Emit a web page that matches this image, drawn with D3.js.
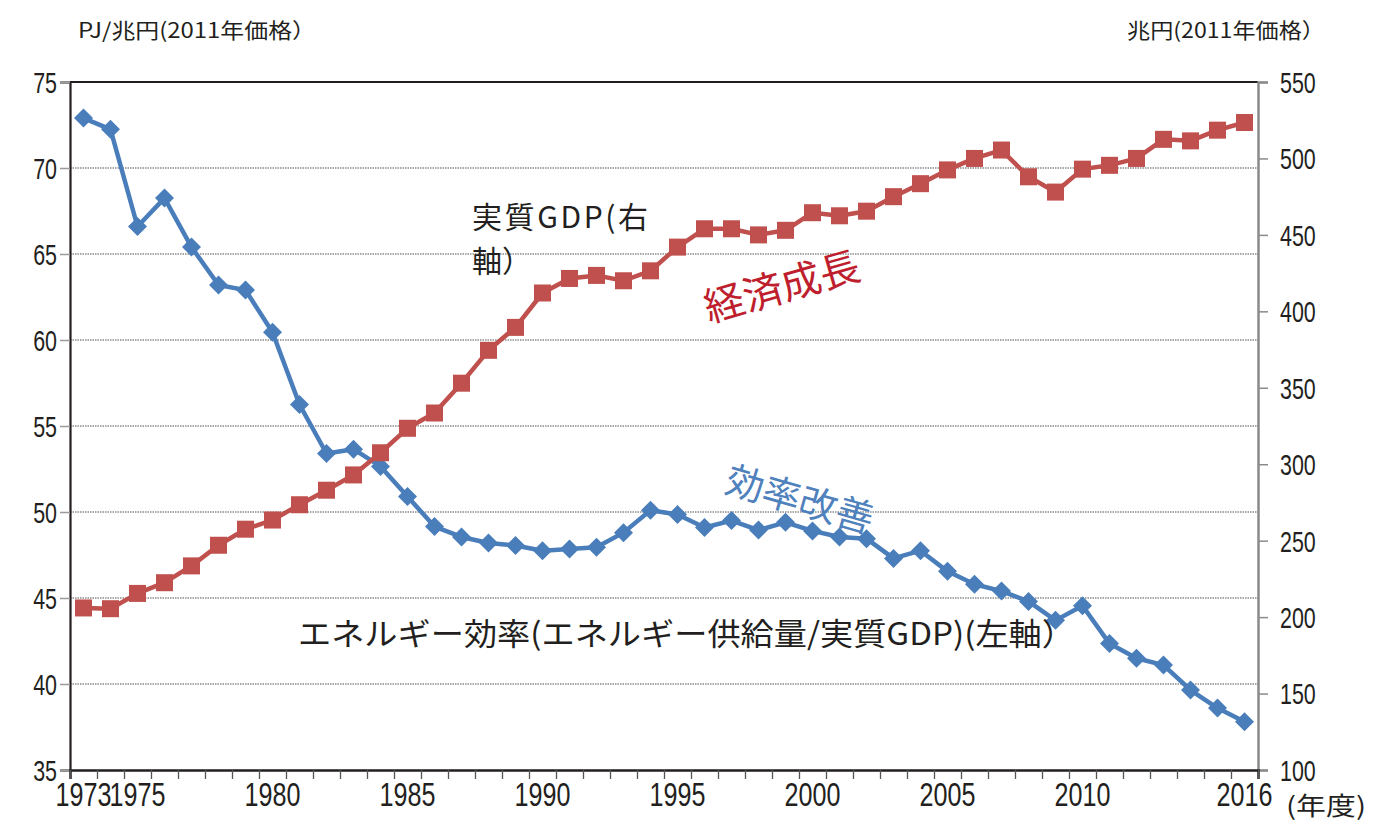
<!DOCTYPE html>
<html><head><meta charset="utf-8">
<script src="https://cdn.jsdelivr.net/npm/d3@7"></script>
<style>body{margin:0;background:#fff}</style>
</head><body><svg id="c" width="1380" height="840"></svg>
<script>
const years = [1973,1974,1975,1976,1977,1978,1979,1980,1981,1982,1983,1984,1985,1986,1987,1988,1989,1990,1991,1992,1993,1994,1995,1996,1997,1998,1999,2000,2001,2002,2003,2004,2005,2006,2007,2008,2009,2010,2011,2012,2013,2014,2015,2016];
const efficiency = [72.9,72.25,66.6,68.25,65.4,63.2,62.9,60.45,56.25,53.4,53.65,52.65,50.9,49.15,48.55,48.2,48.05,47.75,47.85,47.95,48.8,50.1,49.85,49.1,49.5,48.95,49.4,48.9,48.55,48.45,47.3,47.75,46.55,45.8,45.4,44.8,43.7,44.55,42.35,41.5,41.1,39.65,38.6,37.8];
const gdp = [206,205.5,215.5,222.5,233.5,247,257.5,263.5,273.5,283,293,307.5,323.5,333.5,353,374.5,389.5,412,421.5,423.5,420,426.5,442,454,454,450,453,464.5,462.5,465.5,475,483.5,492.5,500,505.5,488,478,493,495.5,500,512.5,511.5,518.5,523.5];
const xTickLabels = [1973,1975,1980,1985,1990,1995,2000,2005,2010,2016];
const leftTicks = [35,40,45,50,55,60,65,70,75];
const rightTicks = [100,150,200,250,300,350,400,450,500,550];

const ink = "#231f20", blue = "#4a7ebb", red = "#c0504d";
const L = 70, R = 1258, T = 82, B = 770;
const SX = 0.74;
const svg = d3.select("#c");
const numFont = "'Liberation Sans', Arial, sans-serif";
const jpFont = "'Noto Sans CJK JP', sans-serif";

const x = d3.scaleLinear().domain([years[0]-0.5, years[years.length-1]+0.5]).range([L, R]);
const yL = d3.scaleLinear().domain([35, 75]).range([B, T]);
const yR = d3.scaleLinear().domain([100, 550]).range([B, T]);

// gridlines
svg.append("g").selectAll("line").data(leftTicks.filter(v => v > 35 && v < 75)).join("line")
  .attr("x1", L).attr("x2", R).attr("y1", d => yL(d)).attr("y2", d => yL(d))
  .attr("stroke", "#8c8c8c").attr("stroke-width", 1.3).attr("stroke-dasharray", "1.5,1");
// top border
svg.append("line").attr("x1", L).attr("x2", R).attr("y1", T).attr("y2", T).attr("stroke", ink).attr("stroke-width", 2);

// left axis
const gl = svg.append("g").attr("transform", `translate(${L},0)`)
  .call(d3.axisLeft(yL).tickValues(leftTicks).tickSize(10).tickPadding(0).tickFormat(d3.format("d")));
gl.select(".domain").attr("stroke", ink).attr("stroke-width", 2.2);
gl.selectAll(".tick line").attr("stroke", "#9a9a9a").attr("stroke-width", 1.5);
gl.selectAll(".tick text").attr("fill", ink).attr("font-family", numFont).attr("font-size", 29)
  .attr("x", -13 / SX).attr("dy", "0.36em").attr("transform", `scale(${SX},1)`);

// right axis
const gr = svg.append("g").attr("transform", `translate(${R},0)`)
  .call(d3.axisRight(yR).tickValues(rightTicks).tickSize(10).tickPadding(0).tickFormat(d3.format("d")));
gr.select(".domain").attr("stroke", "#8a8a8a").attr("stroke-width", 2.5);
gr.selectAll(".tick line").attr("stroke", "#8a8a8a").attr("stroke-width", 1.5);
gr.selectAll(".tick text").attr("fill", ink).attr("font-family", numFont).attr("font-size", 29)
  .attr("x", 22 / SX).attr("dy", "0.36em").attr("transform", `scale(${SX},1)`);

// bottom axis: tick marks at category boundaries
const boundaries = years.map(y => y - 0.5).concat([years[years.length-1] + 0.5]);
const gb = svg.append("g").attr("transform", `translate(0,${B})`)
  .call(d3.axisBottom(x).tickValues(boundaries).tickSize(9).tickFormat(""));
gb.select(".domain").attr("stroke", ink).attr("stroke-width", 2.5);
gb.selectAll(".tick line").attr("stroke", "#555").attr("stroke-width", 1.3);
const gb2 = svg.append("g").attr("transform", `translate(0,${B})`)
  .call(d3.axisBottom(x).tickValues(xTickLabels).tickSize(0).tickFormat(d3.format("d")));
gb2.select(".domain").remove();
gb2.selectAll(".tick text").attr("fill", ink).attr("font-family", numFont).attr("font-size", 34)
  .attr("y", 0).attr("dy", "1.05em").attr("transform", `scale(${SX},1)`);
gb2.selectAll(".tick").each(function(d){
  d3.select(this).attr("transform", null);
  d3.select(this).select("text").attr("x", x(d) / SX);
});

// blue series
const lineL = d3.line().x((d, i) => x(years[i])).y(d => yL(d));
svg.append("path").datum(efficiency).attr("d", lineL).attr("fill", "none")
  .attr("stroke", blue).attr("stroke-width", 4.5).attr("stroke-linejoin", "round");
svg.append("g").selectAll("path").data(efficiency).join("path")
  .attr("transform", (d, i) => `translate(${x(years[i])},${yL(d)})`)
  .attr("d", "M0,-9.5L9.5,0L0,9.5L-9.5,0Z").attr("fill", blue);

// red series
const lineR = d3.line().x((d, i) => x(years[i])).y(d => yR(d));
svg.append("path").datum(gdp).attr("d", lineR).attr("fill", "none")
  .attr("stroke", red).attr("stroke-width", 4.5).attr("stroke-linejoin", "round");
svg.append("g").selectAll("rect").data(gdp).join("rect")
  .attr("x", (d, i) => x(years[i]) - 8.5).attr("y", d => yR(d) - 8.5)
  .attr("width", 17).attr("height", 17).attr("fill", red);

// axis titles
svg.append("text").attr("x", 78).attr("y", 38).attr("font-family", jpFont).attr("font-size", 21)
  .attr("fill", ink).attr("textLength", 238).attr("lengthAdjust", "spacingAndGlyphs").text("PJ/兆円(2011年価格）");
svg.append("text").attr("x", 1127).attr("y", 38).attr("font-family", jpFont).attr("font-size", 21)
  .attr("fill", ink).attr("textLength", 198).attr("lengthAdjust", "spacingAndGlyphs").text("兆円(2011年価格）");
svg.append("text").attr("x", 1286).attr("y", 815).attr("font-family", jpFont).attr("font-size", 25)
  .attr("fill", ink).attr("textLength", 80).attr("lengthAdjust", "spacingAndGlyphs").text("(年度)");

// annotations
svg.append("text").attr("x", 472).attr("y", 228).attr("font-family", jpFont).attr("font-size", 30)
  .attr("fill", ink).attr("textLength", 176).attr("lengthAdjust", "spacing").text("実質GDP(右");
svg.append("text").attr("x", 472).attr("y", 272).attr("font-family", jpFont).attr("font-size", 30)
  .attr("fill", ink).text("軸）");
svg.append("text").attr("x", 298).attr("y", 645).attr("font-family", jpFont).attr("font-size", 31)
  .attr("fill", ink).attr("textLength", 777).attr("lengthAdjust", "spacingAndGlyphs")
  .text("エネルギー効率(エネルギー供給量/実質GDP)(左軸）");
svg.append("text").attr("transform", "translate(782,287) rotate(-16)").attr("text-anchor", "middle")
  .attr("dy", "0.35em").attr("font-family", jpFont).attr("font-size", 40).attr("fill", "#be1e2d")
  .text("経済成長");
svg.append("text").attr("transform", "translate(800,500) rotate(16)").attr("text-anchor", "middle")
  .attr("dy", "0.35em").attr("font-family", jpFont).attr("font-size", 38).attr("fill", "#4f81bd")
  .text("効率改善");
</script></body></html>
